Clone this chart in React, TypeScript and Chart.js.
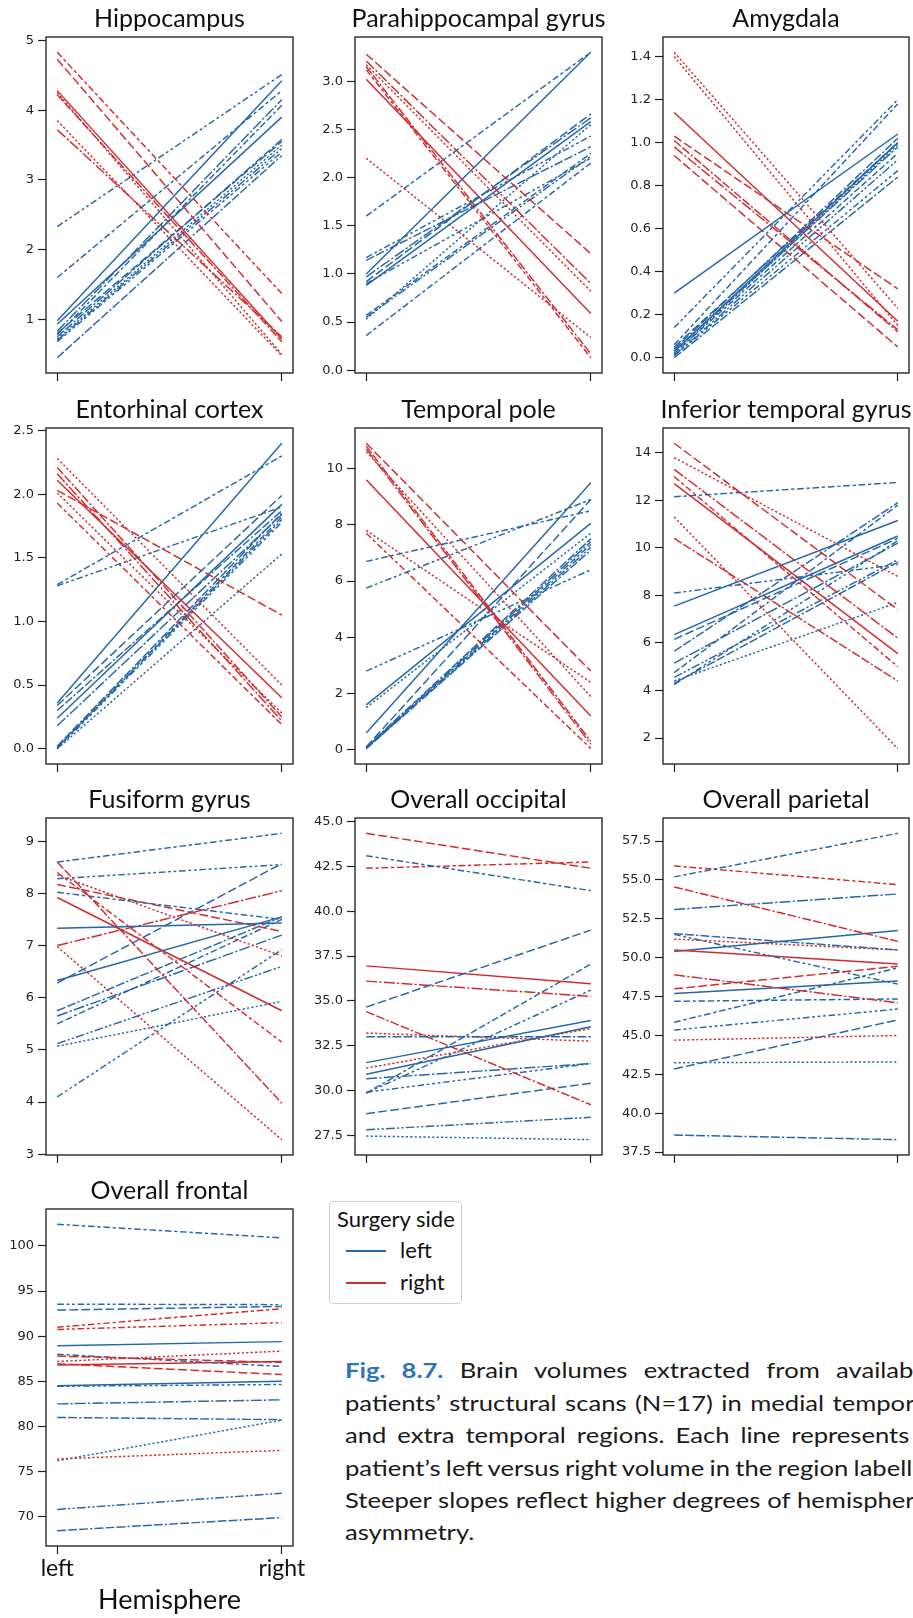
import React, { useEffect, useRef } from "react";
import { Chart, registerables } from "chart.js";

Chart.register(...registerables);

// ---------- data (left hemisphere value, right hemisphere value, line style index) ----------
const hippocampusBlueLeft = [2.33, 1.6, 0.98, 0.93, 0.83, 0.78, 0.8, 0.75, 0.72, 0.7, 0.68, 0.45];
const hippocampusBlueRight = [4.51, 4.28, 4.42, 3.9, 4.15, 4.07, 3.55, 3.58, 3.5, 3.45, 3.4, 3.35];
const hippocampusBlueStyle = [5, 3, 0, 0, 4, 7, 1, 6, 2, 8, 9, 10];
const hippocampusRedLeft = [4.83, 4.73, 4.28, 4.25, 4.22, 3.85, 3.72];
const hippocampusRedRight = [1.37, 0.97, 0.72, 0.5, 0.68, 0.48, 0.75];
const hippocampusRedStyle = [3, 1, 0, 2, 6, 2, 4];

const parahippocampalBlueLeft = [1.6, 1.0, 0.88, 1.17, 1.14, 0.97, 0.92, 0.57, 0.55, 0.53, 0.36, 0.9];
const parahippocampalBlueRight = [3.3, 3.3, 2.58, 2.43, 2.32, 2.62, 2.66, 2.25, 2.22, 2.55, 2.15, 2.2];
const parahippocampalBlueStyle = [3, 0, 0, 5, 6, 4, 1, 7, 8, 2, 3, 9];
const parahippocampalRedLeft = [3.28, 3.21, 3.17, 3.15, 3.12, 3.02, 2.2];
const parahippocampalRedRight = [1.21, 0.9, 0.82, 0.17, 0.13, 0.59, 0.34];
const parahippocampalRedStyle = [1, 4, 2, 6, 3, 0, 2];

const amygdalaBlueLeft = [0.3, 0.14, 0.06, 0.05, 0.04, 0.03, 0.02, 0.02, 0.01, 0.01, 0.0, 0.03];
const amygdalaBlueRight = [1.04, 1.2, 1.18, 1.0, 1.02, 0.98, 0.99, 0.95, 0.92, 0.87, 0.84, 1.0];
const amygdalaBlueStyle = [0, 5, 3, 1, 6, 4, 2, 7, 8, 9, 10, 0];
const amygdalaRedLeft = [1.42, 1.4, 1.14, 1.03, 1.01, 0.98, 0.94];
const amygdalaRedRight = [0.23, 0.15, 0.17, 0.32, 0.12, 0.13, 0.05];
const amygdalaRedStyle = [2, 2, 0, 1, 6, 4, 1];

const entorhinalBlueLeft = [1.29, 1.28, 0.36, 0.34, 0.3, 0.24, 0.18, 0.01, 0.01, 0.0, 0.0, 0.02];
const entorhinalBlueRight = [2.3, 1.9, 2.4, 1.99, 1.87, 1.92, 1.84, 1.82, 1.8, 1.78, 1.53, 1.85];
const entorhinalBlueStyle = [3, 5, 0, 1, 6, 0, 4, 7, 8, 9, 2, 10];
const entorhinalRedLeft = [2.28, 2.21, 2.16, 2.11, 2.03, 2.01, 1.93];
const entorhinalRedRight = [0.5, 0.25, 0.22, 0.4, 1.05, 0.28, 0.19];
const entorhinalRedStyle = [2, 6, 4, 0, 1, 2, 3];

const temporalPoleBlueLeft = [6.7, 5.75, 2.8, 1.6, 1.5, 0.6, 0.1, 0.1, 0.08, 0.06, 0.05, 0.04];
const temporalPoleBlueRight = [8.5, 8.9, 6.4, 8.05, 7.7, 9.5, 8.9, 7.5, 7.4, 7.3, 7.2, 7.1];
const temporalPoleBlueStyle = [3, 5, 9, 0, 2, 0, 1, 6, 4, 7, 8, 10];
const temporalPoleRedLeft = [10.9, 10.8, 10.7, 10.6, 9.6, 7.8, 7.7];
const temporalPoleRedRight = [2.8, 0.3, 0.2, 1.9, 1.2, 2.4, 0.05];
const temporalPoleRedStyle = [1, 6, 4, 2, 0, 2, 3];

const inferiorTemporalBlueLeft = [12.15, 8.1, 7.55, 6.35, 6.15, 5.65, 5.15, 4.75, 4.55, 4.4, 4.25, 4.3];
const inferiorTemporalBlueRight = [12.75, 9.3, 11.15, 10.5, 10.4, 11.9, 10.2, 11.8, 9.5, 7.7, 10.3, 9.4];
const inferiorTemporalBlueStyle = [3, 5, 0, 0, 1, 6, 4, 7, 8, 2, 9, 10];
const inferiorTemporalRedLeft = [14.4, 13.8, 13.3, 13.0, 12.7, 11.3, 10.4];
const inferiorTemporalRedRight = [7.4, 8.8, 6.2, 5.0, 5.55, 1.55, 4.4];
const inferiorTemporalRedStyle = [1, 2, 4, 3, 0, 2, 6];

const fusiformBlueLeft = [8.6, 8.28, 8.02, 7.33, 6.33, 6.28, 5.75, 5.65, 5.5, 5.12, 5.07, 4.1];
const fusiformBlueRight = [9.15, 8.55, 7.5, 7.43, 7.55, 8.57, 7.55, 7.2, 7.5, 6.6, 5.93, 6.92];
const fusiformBlueStyle = [3, 5, 3, 0, 0, 1, 6, 4, 7, 8, 2, 9];
const fusiformRedLeft = [8.6, 8.4, 8.35, 8.17, 7.92, 7.0, 6.98];
const fusiformRedRight = [3.98, 5.15, 6.8, 7.27, 5.75, 8.05, 3.28];
const fusiformRedStyle = [6, 3, 2, 1, 0, 4, 2];

const occipitalBlueLeft = [43.1, 34.65, 33.0, 31.55, 30.9, 30.65, 29.85, 29.85, 29.9, 28.7, 27.8, 27.45];
const occipitalBlueRight = [41.15, 38.95, 33.0, 33.9, 33.55, 31.5, 37.05, 35.6, 31.5, 30.4, 28.5, 27.25];
const occipitalBlueStyle = [3, 1, 6, 0, 0, 4, 7, 5, 9, 1, 8, 2];
const occipitalRedLeft = [44.35, 42.4, 36.95, 36.1, 34.4, 33.2, 31.25];
const occipitalRedRight = [42.4, 42.75, 35.95, 35.25, 29.2, 32.75, 33.45];
const occipitalRedStyle = [1, 3, 0, 4, 6, 2, 2];

const parietalBlueLeft = [55.2, 53.1, 51.55, 51.5, 50.4, 47.7, 47.2, 45.85, 45.35, 43.25, 42.85, 38.6];
const parietalBlueRight = [58.0, 54.1, 50.5, 48.3, 51.75, 48.5, 47.35, 49.35, 46.7, 43.3, 46.0, 38.3];
const parietalBlueStyle = [3, 4, 6, 5, 0, 0, 7, 3, 9, 2, 1, 10];
const parietalRedLeft = [55.9, 54.55, 51.2, 50.5, 48.9, 48.0, 44.7];
const parietalRedRight = [54.7, 51.05, 50.5, 49.6, 47.1, 49.45, 45.0];
const parietalRedStyle = [3, 6, 2, 0, 4, 1, 2];

const frontalBlueLeft = [102.4, 93.55, 92.9, 88.95, 88.0, 84.5, 84.45, 82.5, 81.0, 76.2, 70.8, 68.45];
const frontalBlueRight = [100.9, 93.5, 93.3, 89.4, 86.65, 85.0, 84.65, 82.95, 80.75, 80.7, 72.6, 69.9];
const frontalBlueStyle = [3, 5, 1, 0, 3, 0, 9, 4, 6, 2, 8, 10];
const frontalRedLeft = [91.0, 90.75, 87.8, 87.2, 86.8, 86.95, 76.4];
const frontalRedRight = [93.05, 91.5, 87.1, 88.35, 87.2, 85.75, 77.35];
const frontalRedStyle = [3, 5, 1, 2, 0, 1, 2];

const regionTitles = [
  "Hippocampus",
  "Parahippocampal gyrus",
  "Amygdala",
  "Entorhinal cortex",
  "Temporal pole",
  "Inferior temporal gyrus",
  "Fusiform gyrus",
  "Overall occipital",
  "Overall parietal",
  "Overall frontal",
];
const tickSteps = [1, 0.5, 0.2, 0.5, 2, 2, 1, 2.5, 2.5, 5];
const tickDecimals = [0, 1, 1, 1, 0, 0, 0, 1, 1, 0];
const hemisphereLabels = ["left", "right"];
const legendLabels = ["left", "right"];

// ---------- styles / layout ----------
const BLUE = "rgb(36,102,166)";
const RED = "rgb(210,42,44)";
const DASH_UNIT = 2.2;
const DASHES: number[][] = [
  [],
  [4, 1.5],
  [1, 1],
  [3, 1.25, 1.5, 1.25],
  [5, 1, 1, 1],
  [3, 1.25, 1.25, 1.25, 1.25, 1.25],
  [4, 1, 4, 1, 1, 1],
  [3, 1.25, 3, 1.25, 1.25, 1.25],
  [4, 1, 1, 1, 1, 1],
  [3, 1.25, 1.25, 1.25, 1.25, 1.25, 1.25, 1.25],
  [4, 1, 4, 1, 4, 1, 1, 1],
];
const COL_LEFT = [46, 355, 663];
const COL_W = [247, 247, 246];
const ROW_TOP = [37, 428, 818, 1209];
const ROW_H = [336, 336, 337, 337];
const AXW = 50;
const TITLE_SIZE = 25;
const TITLE_PAD_TOP = 6;
const TITLE_PAD_BOTTOM = 3;
const TITLE_H = TITLE_PAD_TOP + TITLE_SIZE * 1.2 + TITLE_PAD_BOTTOM;

type PanelDef = {
  title: string;
  bl: number[];
  br: number[];
  bs: number[];
  rl: number[];
  rr: number[];
  rs: number[];
  step: number;
  dec: number;
  col: number;
  row: number;
  bottom: boolean;
};

const seriesSets = [
  [hippocampusBlueLeft, hippocampusBlueRight, hippocampusBlueStyle, hippocampusRedLeft, hippocampusRedRight, hippocampusRedStyle],
  [parahippocampalBlueLeft, parahippocampalBlueRight, parahippocampalBlueStyle, parahippocampalRedLeft, parahippocampalRedRight, parahippocampalRedStyle],
  [amygdalaBlueLeft, amygdalaBlueRight, amygdalaBlueStyle, amygdalaRedLeft, amygdalaRedRight, amygdalaRedStyle],
  [entorhinalBlueLeft, entorhinalBlueRight, entorhinalBlueStyle, entorhinalRedLeft, entorhinalRedRight, entorhinalRedStyle],
  [temporalPoleBlueLeft, temporalPoleBlueRight, temporalPoleBlueStyle, temporalPoleRedLeft, temporalPoleRedRight, temporalPoleRedStyle],
  [inferiorTemporalBlueLeft, inferiorTemporalBlueRight, inferiorTemporalBlueStyle, inferiorTemporalRedLeft, inferiorTemporalRedRight, inferiorTemporalRedStyle],
  [fusiformBlueLeft, fusiformBlueRight, fusiformBlueStyle, fusiformRedLeft, fusiformRedRight, fusiformRedStyle],
  [occipitalBlueLeft, occipitalBlueRight, occipitalBlueStyle, occipitalRedLeft, occipitalRedRight, occipitalRedStyle],
  [parietalBlueLeft, parietalBlueRight, parietalBlueStyle, parietalRedLeft, parietalRedRight, parietalRedStyle],
  [frontalBlueLeft, frontalBlueRight, frontalBlueStyle, frontalRedLeft, frontalRedRight, frontalRedStyle],
];

const PANELS: PanelDef[] = seriesSets.map((s, i) => ({
  title: regionTitles[i],
  bl: s[0],
  br: s[1],
  bs: s[2],
  rl: s[3],
  rr: s[4],
  rs: s[5],
  step: tickSteps[i],
  dec: tickDecimals[i],
  col: i % 3,
  row: Math.floor(i / 3),
  bottom: i === 9,
}));

const framePlugin = {
  id: "frame",
  afterDatasetsDraw(chart: any) {
    const { ctx, chartArea } = chart;
    const { left, top, right, bottom } = chartArea;
    ctx.save();
    ctx.strokeStyle = "#1a1a1a";
    ctx.lineWidth = 1.3;
    ctx.strokeRect(left, top, right - left, bottom - top);
    ctx.restore();
  },
};

function Panel({ p }: { p: PanelDef }) {
  const ref = useRef<HTMLCanvasElement | null>(null);
  const boxW = COL_W[p.col];
  const boxH = ROW_H[p.row];
  const xh = p.bottom ? 70 : 14;
  const width = Math.round(AXW * 2 + boxW);
  const height = Math.round(TITLE_H + boxH + xh);
  const left = COL_LEFT[p.col] - AXW;
  const top = ROW_TOP[p.row] - TITLE_H;

  useEffect(() => {
    if (!ref.current) return;
    const all = [...p.bl, ...p.br, ...p.rl, ...p.rr];
    const lo = Math.min(...all);
    const hi = Math.max(...all);
    const m = (hi - lo) * 0.05;
    const datasets: any[] = [];
    const n = Math.max(p.bl.length, p.rl.length);
    const mk = (l: number, r: number, s: number, color: string) => ({
      data: [
        { x: 0, y: l },
        { x: 1, y: r },
      ],
      borderColor: color,
      borderWidth: 1.45,
      borderDash: DASHES[s].map((d) => d * DASH_UNIT),
      pointRadius: 0,
      fill: false,
      tension: 0,
    });
    for (let i = 0; i < n; i++) {
      if (i < p.bl.length) datasets.push(mk(p.bl[i], p.br[i], p.bs[i], BLUE));
      if (i < p.rl.length) datasets.push(mk(p.rl[i], p.rr[i], p.rs[i], RED));
    }
    const tickGrid = {
      display: true,
      drawOnChartArea: false,
      drawTicks: true,
      tickLength: 8,
      tickWidth: 1.2,
      tickColor: "#222",
    };
    const chart = new Chart(ref.current, {
      type: "line",
      data: { datasets },
      options: {
        animation: false,
        responsive: false,
        devicePixelRatio: 1,
        layout: { padding: 0 },
        plugins: {
          legend: { display: false },
          tooltip: { enabled: false },
          title: {
            display: true,
            text: p.title,
            color: "#111",
            font: { family: "Lato", size: TITLE_SIZE, weight: "normal", lineHeight: 1.2 },
            padding: { top: TITLE_PAD_TOP, bottom: TITLE_PAD_BOTTOM },
          },
        },
        scales: {
          x: {
            type: "linear",
            min: -0.05,
            max: 1.05,
            afterBuildTicks: (s: any) => {
              s.ticks = [{ value: 0 }, { value: 1 }];
            },
            afterFit: (s: any) => {
              s.height = xh;
            },
            grid: tickGrid,
            border: { display: false },
            ticks: {
              autoSkip: false,
              maxRotation: 0,
              padding: 1,
              color: "#111",
              font: { family: "Lato", size: 23 },
              callback: (v: any) => (p.bottom ? hemisphereLabels[Number(v) === 0 ? 0 : 1] : ""),
            },
            title: {
              display: p.bottom,
              text: "Hemisphere",
              color: "#111",
              font: { family: "Lato", size: 27, lineHeight: 1.2 },
              padding: 0,
            },
          },
          y: {
            type: "linear",
            min: lo - m,
            max: hi + m,
            afterBuildTicks: (s: any) => {
              const ticks: any[] = [];
              let k = Math.ceil(s.min / p.step - 1e-9);
              for (; k * p.step <= s.max + 1e-9; k++) {
                ticks.push({ value: Math.round(k * p.step * 1000) / 1000 });
              }
              s.ticks = ticks;
            },
            afterFit: (s: any) => {
              s.width = AXW;
            },
            grid: tickGrid,
            border: { display: false },
            ticks: {
              padding: 4,
              color: "#222",
              font: { family: "DejaVu Sans", size: 13 },
              callback: (v: any) => Number(v).toFixed(p.dec),
            },
          },
          y2: {
            type: "linear",
            position: "right",
            display: true,
            grid: { display: false, drawTicks: false },
            border: { display: false },
            ticks: { display: false },
            afterFit: (s: any) => {
              s.width = AXW;
            },
          },
        },
      } as any,
      plugins: [framePlugin],
    });
    return () => chart.destroy();
  }, []);

  return (
    <canvas
      ref={ref}
      width={width}
      height={height}
      style={{ position: "absolute", left, top, width, height }}
    />
  );
}

function Legend() {
  const base: React.CSSProperties = {
    position: "absolute",
    fontFamily: "Lato",
    color: "#111",
    lineHeight: "1",
    whiteSpace: "nowrap",
  };
  return (
    <div
      style={{
        position: "absolute",
        left: 329,
        top: 1201,
        width: 131,
        height: 101,
        border: "1px solid #cfcfcf",
        borderRadius: 4,
        background: "#fff",
      }}
    >
      <div style={{ ...base, left: 7, top: 6, fontSize: 22 }}>Surgery side</div>
      <div style={{ position: "absolute", left: 16, top: 48, width: 40, height: 2, background: BLUE }} />
      <div style={{ ...base, left: 70, top: 37, fontSize: 22 }}>{legendLabels[0]}</div>
      <div style={{ position: "absolute", left: 16, top: 80, width: 40, height: 2, background: RED }} />
      <div style={{ ...base, left: 70, top: 69, fontSize: 22 }}>{legendLabels[1]}</div>
    </div>
  );
}

const CAPTION_LINES = [
  "Brain volumes extracted from available",
  "patients\u2019 structural scans (N=17) in medial temporal",
  "and extra temporal regions. Each line represents a",
  "patient\u2019s left versus right volume in the region labelled.",
  "Steeper slopes reflect higher degrees of hemispheric",
  "asymmetry.",
];
const CAPTION_BASELINES = [1378, 1411, 1443, 1476, 1508, 1540];
const CAPTION_STRETCH = 1.22;

function Caption() {
  const size = 21;
  return (
    <>
      {CAPTION_LINES.map((t, i) => {
        const last = i === CAPTION_LINES.length - 1;
        return (
          <div
            key={i}
            style={{
              position: "absolute",
              left: 345,
              top: CAPTION_BASELINES[i] - size * 0.98,
              width: 482,
              fontFamily: "Lato",
              fontSize: size,
              lineHeight: `${size * 1.2}px`,
              color: "#1a1a1a",
              whiteSpace: "nowrap",
              wordSpacing: "-1px",
              textAlign: last ? "left" : "justify",
              textAlignLast: last ? "left" : "justify",
              transform: `scaleX(${CAPTION_STRETCH})`,
              transformOrigin: "left top",
            } as React.CSSProperties}
          >
            {i === 0 ? (
              <>
                <span style={{ color: "#2e74b5", fontWeight: 700 }}>Fig. 8.7.</span> {t}
              </>
            ) : (
              t
            )}
          </div>
        );
      })}
    </>
  );
}

export default function App() {
  return (
    <div
      style={{
        position: "absolute",
        left: 0,
        top: 0,
        width: 913,
        height: 1618,
        overflow: "hidden",
        background: "#fff",
      }}
    >
      {PANELS.map((p, i) => (
        <Panel key={i} p={p} />
      ))}
      <Legend />
      <Caption />
    </div>
  );
}
